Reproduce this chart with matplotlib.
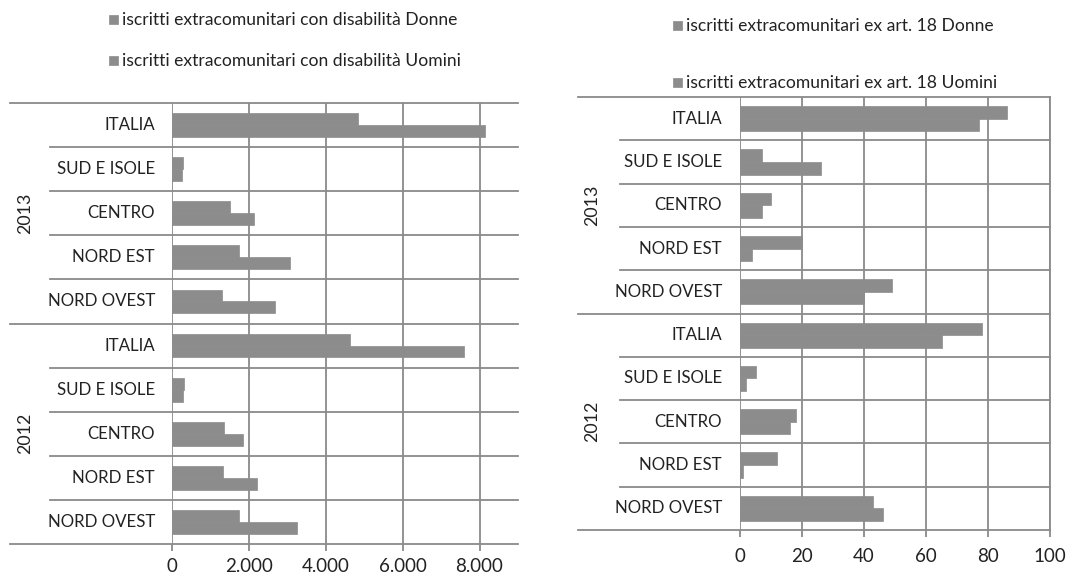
import numpy as np
import matplotlib.pyplot as plt
from matplotlib.patches import Rectangle
from matplotlib.transforms import blended_transform_factory

plt.rcParams['font.family'] = ['Lato', 'DejaVu Sans']

# data
regions = ['ITALIA', 'SUD E ISOLE', 'CENTRO', 'NORD EST', 'NORD OVEST']
years = ['2013', '2012']

dis_donne_2013 = [4850, 290, 1500, 1750, 1300]
dis_uomini_2013 = [8150, 270, 2130, 3080, 2680]
dis_donne_2012 = [4630, 300, 1350, 1320, 1740]
dis_uomini_2012 = [7590, 290, 1850, 2220, 3250]

art_donne_2013 = [86, 7, 10, 20, 49]
art_uomini_2013 = [77, 26, 7, 4, 40]
art_donne_2012 = [78, 5, 18, 12, 43]
art_uomini_2012 = [65, 2, 16, 1, 46]

dis_ticks = [0, 2000, 4000, 6000, 8000]
dis_ticklabels = ['0', '2.000', '4.000', '6.000', '8.000']
art_ticks = [0, 20, 40, 60, 80, 100]
art_ticklabels = ['0', '20', '40', '60', '80', '100']

leg_dis = ['iscritti extracomunitari con disabilità Donne',
           'iscritti extracomunitari con disabilità Uomini']
leg_art = ['iscritti extracomunitari ex art. 18 Donne',
           'iscritti extracomunitari ex art. 18 Uomini']

W, H = 1090, 576
BAR = '#8c8c8c'
GRID = '#8a8a8a'
TXT = '#222222'

fig = plt.figure(figsize=(W/100, H/100), dpi=100)


def px_axes(x0, y0, x1, y1):
    # pixel box (top-left origin) -> figure axes
    return fig.add_axes([x0/W, 1 - y1/H, (x1-x0)/W, (y1-y0)/H])


def draw_panel(ax, donne, uomini, xmax, ticks, ticklabels,
               cat_x, grp_x, year_x, lab_x, bh, pad, right_spine):
    n = len(regions)
    # category centres, top to bottom: 2013 block then 2012 block
    centers = np.arange(2*n)[::-1] + 0.5
    top_vals = list(donne[0]) + list(donne[1])
    bot_vals = list(uomini[0]) + list(uomini[1])
    ax.barh(centers + bh/2, top_vals, height=bh, color=BAR, edgecolor=BAR, lw=0.5, zorder=3)
    ax.barh(centers - bh/2, bot_vals, height=bh, color=BAR, edgecolor=BAR, lw=0.5, zorder=3)
    ax.set_xlim(0, xmax)
    ax.set_ylim(0, 2*n)
    ax.set_xticks(ticks)
    ax.set_xticklabels(ticklabels, fontsize=13.5, color=TXT)
    ax.set_yticks([])
    ax.tick_params(axis='x', length=5, pad=pad, color=GRID, width=1.3)
    ax.xaxis.grid(True, color=GRID, lw=1.3, zorder=0)
    for s in ['top', 'left', 'right', 'bottom']:
        ax.spines[s].set_visible(False)
    if right_spine:
        ax.spines['right'].set_visible(True)
        ax.spines['right'].set_color(GRID)
        ax.spines['right'].set_linewidth(1.3)

    tr = blended_transform_factory(fig.transFigure, ax.transData)
    x_end = ax.get_position().x1
    for k in range(2*n + 1):
        x0 = grp_x if k % n == 0 else cat_x
        ax.plot([x0/W, x_end], [k, k], color=GRID, lw=1.3, transform=tr,
                clip_on=False, zorder=1)

    for i, c in enumerate(centers):
        ax.text(lab_x/W, c, regions[i % n], transform=tr, ha='right',
                va='center', fontsize=12.2, color=TXT)
    for j, y in enumerate(years):
        ax.text(year_x/W, 2*n - (j + 0.5)*n, y, transform=tr, rotation=90,
                ha='center', va='center', fontsize=12.8, color=TXT)


def legend_entry(x, y, label):
    fig.patches.append(Rectangle((x/W, 1 - (y+4)/H), 9/W, 9/H, transform=fig.transFigure,
                                 facecolor=BAR, edgecolor=BAR, lw=0.5))
    fig.text((x + 13)/W, 1 - y/H, label, ha='left', va='center', fontsize=12.6, color=TXT)


ax1 = px_axes(172, 103, 518, 544)
draw_panel(ax1, [dis_donne_2013, dis_donne_2012], [dis_uomini_2013, dis_uomini_2012],
           9000, dis_ticks, dis_ticklabels,
           cat_x=50, grp_x=10, year_x=25, lab_x=155, bh=0.27, pad=5, right_spine=False)

ax2 = px_axes(740, 97, 1050, 530)
draw_panel(ax2, [art_donne_2013, art_donne_2012], [art_uomini_2013, art_uomini_2012],
           100, art_ticks, art_ticklabels,
           cat_x=620, grp_x=578, year_x=592, lab_x=722, bh=0.29, pad=8, right_spine=True)

legend_entry(109, 20, leg_dis[0])
legend_entry(109, 61, leg_dis[1])
legend_entry(673, 26, leg_art[0])
legend_entry(673, 83, leg_art[1])

fig.savefig('out.png', dpi=100, facecolor='white')
